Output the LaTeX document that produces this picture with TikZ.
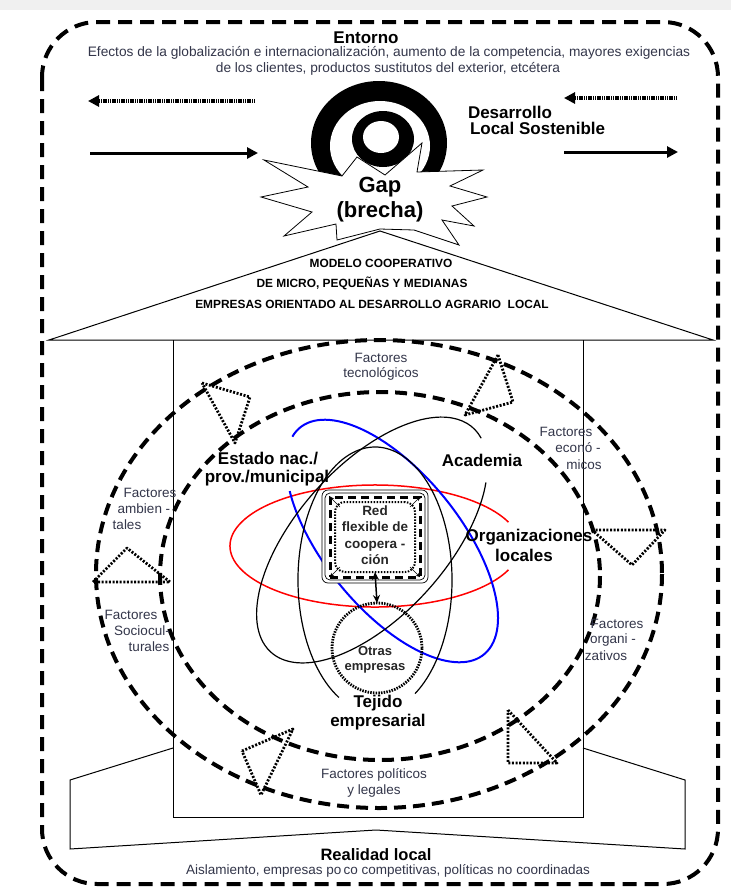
\documentclass[tikz,border=0pt]{standalone}
\usepackage{fontspec}
\setmainfont{Liberation Sans}
\usetikzlibrary{arrows.meta}
\definecolor{lblc}{HTML}{33364A}
\newcommand{\fsz}[2]{\fontsize{#1}{#2}\selectfont}
\begin{document}
\begin{tikzpicture}[x=1pt,y=-1pt,
  every node/.style={inner sep=0pt, outer sep=0pt},
  thickdash/.style={line width=4pt, dash pattern=on 12pt off 7pt},
  dotline/.style={line width=2.8pt, dash pattern=on 2pt off 1.6pt, line join=round},
  lbl/.style={font=\fsz{13.5}{15}, text=lblc},
  bigb/.style={font=\bfseries\fsz{17}{17}},
  rooftxt/.style={font=\bfseries\fsz{11.9}{13}},
  solidarr/.style={line width=3pt, -{Triangle[length=11pt,width=11pt]}},
  dotarr/.style={line width=3.6pt, dash pattern=on 1.3pt off 0.5pt, -{Triangle[length=11pt,width=11pt]}},
  thinln/.style={line width=1pt},
]
\useasboundingbox (0,0) rectangle (731,892);
\fill[white] (0,0) rectangle (731,892);
\fill[black!6] (0,0) rectangle (731,10);

% outer border
\draw[line width=4pt, dash pattern=on 14pt off 8pt, rounded corners=55pt] (42,22) rectangle (718,884);

% header texts
\node[font=\bfseries\fsz{17}{17}] (ent) at (366,38) {Entorno};
\node[font=\fsz{13.7}{15}, text=lblc] (ef1) at (389,53) {Efectos de la globalización e internacionalización, aumento de la competencia, mayores exigencias};
\node[font=\fsz{13.7}{15}, text=lblc] (ef2) at (388,69) {de los clientes, productos sustitutos del exterior, etcétera};

% arrows
\coordinate (la1) at (255,101); \coordinate (la2) at (88,101);
\coordinate (lb1) at (90,153);  \coordinate (lb2) at (258,153);
\coordinate (ra1) at (677,98);  \coordinate (ra2) at (564,98);
\coordinate (rb1c) at (564,152); \coordinate (rb2c) at (678,152);
\draw[dotarr] (la1) -- (la2);
\draw[solidarr] (lb1) -- (lb2);
\draw[dotarr] (ra1) -- (ra2);
\draw[solidarr] (rb1c) -- (rb2c);

\node[font=\bfseries\fsz{17}{16}, anchor=west] (des1) at (468,112) {Desarrollo};
\node[font=\bfseries\fsz{17}{16}, anchor=west] (des2) at (470,128) {Local Sostenible};

% target
\fill[black] (379,143) ellipse [x radius=68, y radius=62];
\fill[white] (380,146) ellipse [x radius=50, y radius=45];
\fill[black] (383,139) ellipse [x radius=31, y radius=28];
\fill[white] (381,137) ellipse [x radius=18, y radius=16];

% star
\draw[line width=0.8pt, fill=white, line join=miter]
 (357,157) -- (385,175) -- (422,143) -- (417,172) -- (483,170) -- (450,186) -- (487,197)
 -- (452,206) -- (474,226) -- (442,220) -- (459,245) -- (414,230) -- (380,229) -- (337,240)
 -- (336,224) -- (284,236) -- (312,212) -- (261,197) -- (308,187) -- (264,160) -- (342,176) -- cycle;
\node[font=\bfseries\fsz{22}{25}] (gap1) at (380,187) {Gap};
\node[font=\bfseries\fsz{22}{25}] (gap2) at (380,212) {(brecha)};

% roof
\draw[thinln] (49,340) -- (380,231) -- (713,340) -- cycle;
\node[rooftxt] (rf1) at (381,263) {MODELO COOPERATIVO};
\node[rooftxt] (rf2) at (362,283) {DE MICRO, PEQUEÑAS Y MEDIANAS};
\node[rooftxt] (rf3) at (372,304) {EMPRESAS ORIENTADO AL DESARROLLO AGRARIO\ \ LOCAL};

% house + base
\draw[thinln] (173,340) -- (173,817) -- (583,817) -- (583,340);
\draw[thinln] (173,748) -- (70,780) -- (70,849) -- (376,830) -- (685,849) -- (685,780) -- (583,748);

% dashed ellipses
\draw[thickdash] (379,574) ellipse [x radius=283, y radius=234];
\draw[thickdash] (380,576) ellipse [x radius=220, y radius=184];

% dotted triangles
\draw[dotline] (202,383) -- (250,397) -- (235,443) -- cycle;
\draw[dotline] (498,355) -- (513,402) -- (465,415) -- cycle;
\draw[dotline] (93,582) -- (127,548) -- (170,582) -- cycle;
\draw[dotline] (592,530) -- (665,530) -- (632,565) -- cycle;
\draw[dotline] (242,751) -- (293,729) -- (261,795) -- cycle;
\draw[dotline] (508,710) -- (557,763) -- (508,763) -- cycle;

% factor labels
\node[lbl] (tec1) at (381,358) {Factores};
\node[lbl] (tec2) at (381,374) {tecnológicos};
\node[lbl] (eco1) at (566,432) {Factores};
\node[lbl] (eco2) at (578,448) {econó -};
\node[lbl] (eco3) at (584,465) {micos};
\node[lbl] (amb1) at (150,493) {Factores};
\node[lbl] (amb2) at (144,509) {ambien -};
\node[lbl] (amb3) at (127,525) {tales};
\node[lbl] (soc1) at (131,615) {Factores};
\node[lbl] (soc2) at (142,631) {Sociocul-};
\node[lbl] (soc3) at (149,647) {turales};
\node[lbl] (org1) at (617,624) {Factores};
\node[lbl] (org2) at (613,640) {organi -};
\node[lbl] (org3) at (606,656) {zativos};
\node[lbl] (pol1) at (374,775) {Factores políticos};
\node[lbl] (pol2) at (374,791) {y legales};

% colored / black ellipses
\draw[red, line width=1.5pt] (375,546) ++(23:145 and 61) arc[start angle=23, end angle=337, x radius=145, y radius=61];
\begin{scope}[shift={(392,541)}, rotate=-51]
  \draw[blue, line width=2pt] (170:146 and 68) arc[start angle=170, end angle=495, x radius=146, y radius=68];
\end{scope}
\begin{scope}[shift={(372,540)}, rotate=48]
  \draw[black, line width=1.2pt] (38:151 and 75) arc[start angle=38, end angle=370, x radius=151, y radius=75];
\end{scope}
\draw[black, line width=1.2pt] (375,580) ++(118:77 and 133) arc[start angle=118, end angle=418.7, x radius=77, y radius=133];

% central box
\node[draw, line width=0.7pt, rounded corners=6pt, minimum width=106pt, minimum height=93pt, fill=white] (bx1) at (375,536.5) {};
\node[draw, line width=0.7pt, rounded corners=5pt, minimum width=100pt, minimum height=87pt] (bx2) at (375,536.5) {};
\node[draw, line width=3pt, dash pattern=on 8pt off 5pt, minimum width=90pt, minimum height=80pt] (bx3) at (375,537) {};
\node[draw, line width=2pt, dash pattern=on 1.5pt off 1.5pt, rounded corners=10pt, minimum width=80pt, minimum height=70pt] (bx4) at (375,537) {};
\coordinate (c1) at (340,507); \coordinate (c2) at (410,507); \coordinate (c3) at (340,567); \coordinate (c4) at (410,567);
\draw[line width=0.6pt, -{Stealth[length=4pt,width=4pt]}] (c1) -- (bx3.north west);
\draw[line width=0.6pt, -{Stealth[length=4pt,width=4pt]}] (c2) -- (bx3.north east);
\draw[line width=0.6pt, -{Stealth[length=4pt,width=4pt]}] (c3) -- (bx3.south west);
\draw[line width=0.6pt, -{Stealth[length=4pt,width=4pt]}] (c4) -- (bx3.south east);
\node[font=\bfseries\fsz{13.5}{16.5}, align=center, text=black!85] (redtxt) at (375,535) {Red\\flexible de\\coopera -\\ción};

% otras empresas circle
\node[draw, circle, minimum size=90pt, line width=2.8pt, dash pattern=on 1.5pt off 1.2pt] (otr) at (377,648) {};
\draw[line width=1.5pt, {Stealth[length=8pt,width=7pt]}-{Stealth[length=8pt,width=7pt]}] (bx4.south) -- (otr.north);
\node[font=\bfseries\fsz{13}{15}, align=center, text=black!85] (otrtxt) at (375,660) {Otras\\empresas};

% actor labels
\node[bigb] (est1) at (268,459) {Estado nac./};
\node[bigb] (est2) at (267,478) {prov./municipal};
\node[bigb] (aca) at (482,460) {Academia};
\node[bigb] (orl1) at (529,537) {Organizaciones};
\node[bigb] (orl2) at (524,555) {locales};
\node[bigb] (tej1) at (378,703) {Tejido};
\node[bigb] (tej2) at (378,722) {empresarial};

% bottom
\node[font=\bfseries\fsz{16.5}{16}] (real) at (376,855) {Realidad local};
\node[font=\fsz{13.5}{15}, text=lblc] (ais) at (388,871) {Aislamiento, empresas po\,co competitivas, políticas no coordinadas};
\end{tikzpicture}
\end{document}
